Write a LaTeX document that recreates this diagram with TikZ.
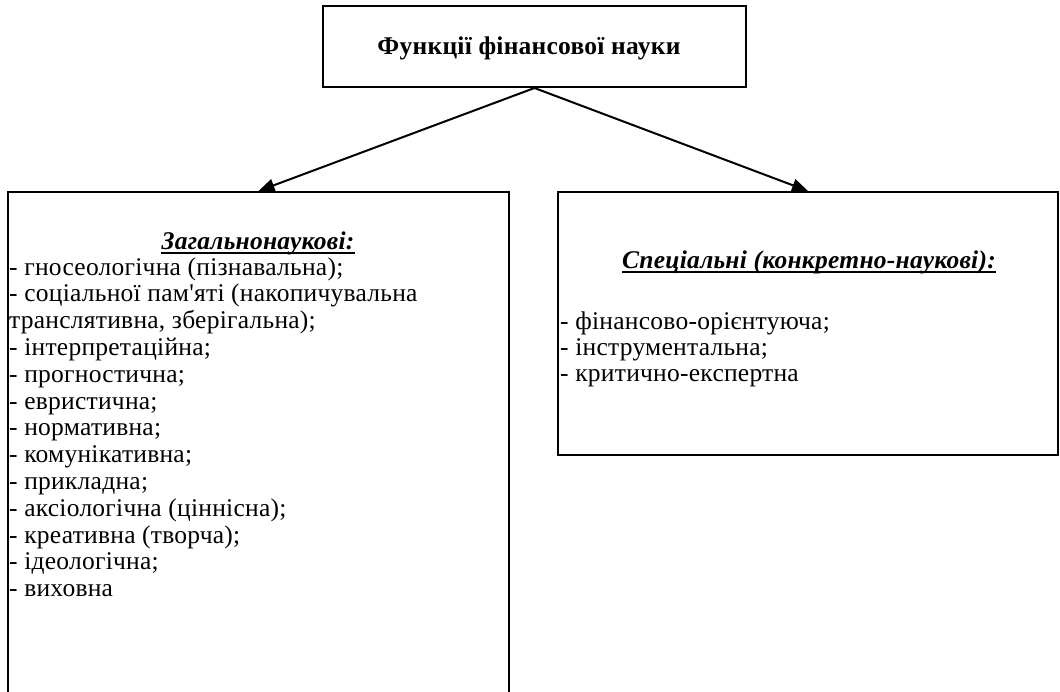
\documentclass[tikz,border=0pt]{standalone}
\usepackage{fontspec}
\setmainfont{Liberation Serif}
\newfontfamily\spacedfont{Liberation Serif}[LetterSpace=1]
\usetikzlibrary{arrows.meta}
\begin{document}
\begin{tikzpicture}[x=1pt,y=-1pt,
  frame/.style={draw, line width=2pt, rectangle, inner sep=0},
  link/.style={line width=2pt, -{Triangle[length=16pt,width=13pt]}},
  item/.style={inner sep=0, anchor=base west, font=\spacedfont\fontsize{25.5}{27}\selectfont},
  head/.style={inner sep=0, anchor=base, font=\spacedfont\fontsize{25.5}{27}\selectfont\bfseries\itshape},
  rule/.style={line width=1.4pt}]
\clip (0,0) rectangle (1060,691);

% boxes
\node[frame, minimum width=423pt, minimum height=81pt] (top) at (534.5,46.5) {};
\node[frame, minimum width=501pt, minimum height=540pt] (lbox) at (258.5,462) {};
\node[frame, minimum width=500pt, minimum height=263pt] (rbox) at (808,323.5) {};

% heading of the scheme
\node[inner sep=0, font=\spacedfont\fontsize{25.5}{27}\selectfont\bfseries] (title) at (529,48) {Функції фінансової науки};

% connectors
\draw[link] (top.south) -- (lbox.north);
\draw[link] (top.south) -- (rbox.north);

% general scientific functions
\node[head] (lhead) at (258,249) {Загальнонаукові:};
\draw[rule] ([yshift=-4pt]lhead.base west) -- ([yshift=-4pt]lhead.base east);
\foreach \t [count=\i] in {
  - гносеологічна (пізнавальна);,
  - соціальної пам'яті (накопичувальна,
  {транслятивна, зберігальна);},
  - інтерпретаційна;,
  - прогностична;,
  - евристична;,
  - нормативна;,
  - комунікативна;,
  - прикладна;,
  - аксіологічна (ціннісна);,
  - креативна (творча);,
  - ідеологічна;,
  - виховна}
  \node[item] (l\i) at (9,{275+(\i-1)*26.8}) {\t};

% special functions
\node[head] (rhead) at (809,268) {Спеціальні (конкретно-наукові):\ };
\draw[rule] ([yshift=-4pt]rhead.base west) -- ([yshift=-4pt]rhead.base east);
\foreach \t [count=\i] in {
  - фінансово-орієнтуюча;,
  - інструментальна;,
  - критично-експертна}
  \node[item] (r\i) at (560,{329+(\i-1)*26.3}) {\t};
\end{tikzpicture}
\end{document}
